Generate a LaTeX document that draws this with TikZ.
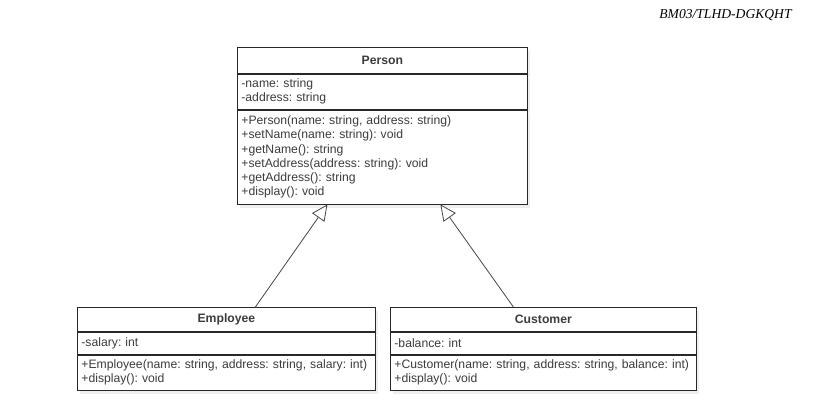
\documentclass[tikz,border=0pt]{standalone}
\usepackage{fontspec}
\setmainfont{Liberation Sans}
\newfontfamily\headfont{Liberation Serif}
\usetikzlibrary{arrows.meta,positioning,shadows}
\definecolor{linei}{RGB}{40,40,40}
\definecolor{texti}{RGB}{60,60,60}
\definecolor{arrowi}{RGB}{70,70,70}
\definecolor{shadowi}{RGB}{238,238,238}
\frenchspacing
\tikzset{
      umltitle/.style 2 args={
        draw=linei,
        fill=white,
        line width=0.8pt,
        text=texti,
        font=\fontsize{12.2}{14.2}\selectfont\bfseries,
        align=center,
        text width=#1,
        minimum height=#2,
        inner xsep=4pt,
        inner ysep=0pt,
        drop shadow={shadow xshift=3pt,shadow yshift=-4pt,fill=shadowi,opacity=1}
      },
      umlpart/.style 2 args={
        draw=linei,
        fill=white,
        line width=0.8pt,
        text=texti,
        font=\fontsize{12.2}{14.2}\selectfont,
        align=left,
        text width=#1,
        minimum height=#2,
        inner xsep=4pt,
        inner ysep=0pt,
        drop shadow={shadow xshift=3pt,shadow yshift=-4pt,fill=shadowi,opacity=1}
      },
      inherit/.style={
        draw=arrowi,
        line width=0.8pt,
        -{Triangle[open,length=16pt,width=15pt,fill=white]}
      },
    }

\begin{document}
\begin{tikzpicture}[x=1pt,y=-1pt,node distance=0pt]
  \useasboundingbox[fill=white] (0,0) rectangle (829,410);

  \node[font=\headfont\itshape\fontsize{13.6}{16}\selectfont]
    (docid) at (725.5,15.5)
    {BM03/TLHD-DGKQHT};

  % Person
  \node[umltitle={282pt}{26pt},anchor=north west]
    (persontitle) at (237,47)
    {Person};
  \node[umlpart={282pt}{35pt},below=of persontitle]
    (personattr)
    {-name: string\\-address: string};
  \node[umlpart={282pt}{94pt},below=of personattr]
    (personops)
    {+Person(name: string, address: string)\\
     +setName(name: string): void\\
     +getName(): string\\
     +setAddress(address: string): void\\
     +getAddress(): string\\
     +display(): void};

  % Employee
  \node[umltitle={290pt}{24pt},anchor=north west]
    (emptitle) at (77,307)
    {Employee};
  \node[umlpart={290pt}{22pt},below=of emptitle]
    (empattr)
    {-salary: int};
  \node[umlpart={290pt}{35pt},below=of empattr]
    (empops)
    {+Employee(name: string, address: string, salary: int)\\
     +display(): void};

  % Customer
  \node[umltitle={298pt}{24pt},anchor=north west]
    (custtitle) at (390,307)
    {Customer};
  \node[umlpart={298pt}{22pt},below=of custtitle]
    (custattr)
    {-balance: int};
  \node[umlpart={298pt}{35pt},below=of custattr]
    (custops)
    {+Customer(name: string, address: string, balance: int)\\
     +display(): void};

  \draw[inherit] ([xshift=29pt]emptitle.north) -- ([xshift=-55pt]personops.south);
  \draw[inherit] ([xshift=-30pt]custtitle.north) -- ([xshift=58pt]personops.south);
\end{tikzpicture}
\end{document}
